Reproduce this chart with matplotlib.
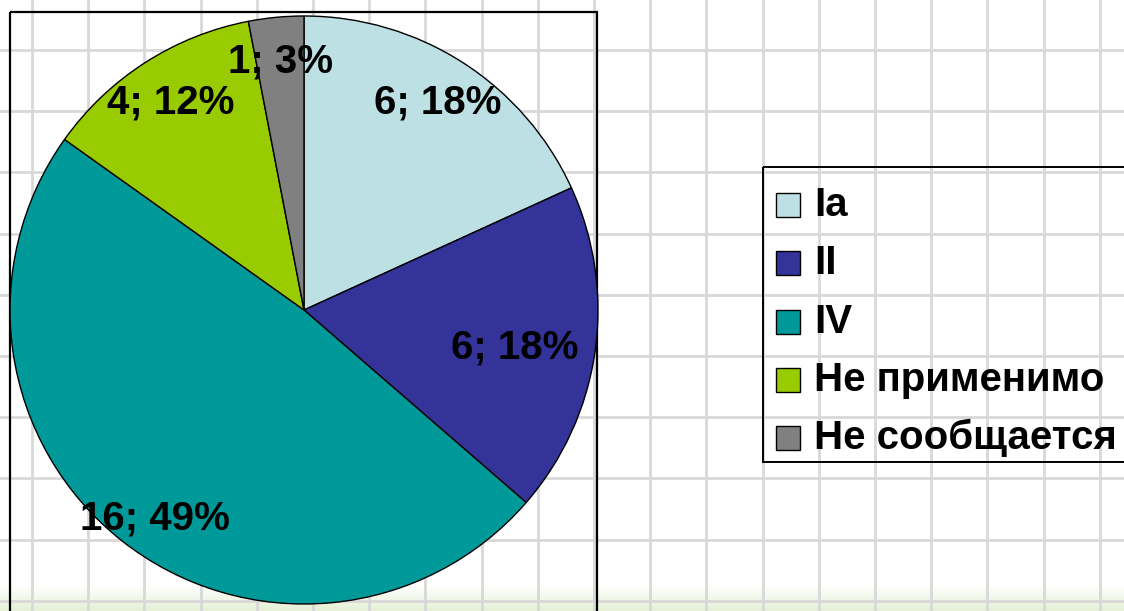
import numpy as np
import matplotlib.pyplot as plt
from matplotlib.patches import Rectangle

categories = ['Ia', 'II', 'IV', 'Не применимо', 'Не сообщается']
counts = [6, 6, 16, 4, 1]
percents = [18, 18, 49, 12, 3]
colors = ['#BCE0E3', '#333399', '#009999', '#99CC00', '#808080']
label_dist = [0.84, 0.73, 0.87, 0.84, 0.85]
label_turn = [0, -2.0, 2.6, 0, 0]

W, H = 1124, 611
fig = plt.figure(figsize=(W / 100, H / 100), dpi=100)
fig.patch.set_facecolor('white')

# background: squared paper with a faint green tint at the bottom
bg = fig.add_axes([0, 0, 1, 1])
bg.set_xlim(0, W)
bg.set_ylim(H, 0)
bg.axis('off')
tint = np.ones((H, 1, 4))
tint[:, 0, :3] = [0.88, 0.93, 0.80]
tint[:, 0, 3] = np.clip((np.arange(H) - 585) / 30, 0, 0.8)
bg.imshow(tint, extent=[0, W, H, 0], aspect='auto', zorder=0)
for x in np.arange(32, W, 56.2):
    bg.axvline(x, color='#d8d8d8', lw=2.0, zorder=1)
for y in np.arange(50, H, 61.2):
    bg.axhline(y, color='#d8d8d8', lw=2.0, zorder=1)

# plot area frame
bg.add_patch(Rectangle((10, 12), 587, 620, fill=False, ec='black', lw=1.6, zorder=2))

# pie
cx, cy, r = 304, 310, 294
ax = fig.add_axes([(cx - r) / W, (H - cy - r) / H, 2 * r / W, 2 * r / H])
wedges, _ = ax.pie(counts, colors=colors, startangle=90, counterclock=False, radius=1,
                   wedgeprops=dict(edgecolor='black', linewidth=1.0))
ax.set_xlim(-1, 1)
ax.set_ylim(-1, 1)
ax.axis('off')

for w, n, p, d, t in zip(wedges, counts, percents, label_dist, label_turn):
    ang = np.deg2rad((w.theta1 + w.theta2) / 2 + t)
    ax.text(d * np.cos(ang), d * np.sin(ang), f'{n}; {p}%', ha='center', va='center',
            fontsize=29, fontweight='bold', family=['Liberation Sans', 'DejaVu Sans'])

# legend box (drawn by hand so the rows land where the original has them)
bg.add_patch(Rectangle((763, 167), 420, 295, fill=False, ec='black', lw=1.4, zorder=3))
row0, step = 205, 58.3
for i, (lab, c) in enumerate(zip(categories, colors)):
    yy = row0 + i * step
    bg.add_patch(Rectangle((776, yy - 12), 24, 24, fc=c, ec='black', lw=1.0, zorder=3))
    bg.text(814, yy, lab, ha='left', va='center', fontsize=29, fontweight='bold',
            family=['Liberation Sans', 'DejaVu Sans'], zorder=3)

fig.savefig('out.png', dpi=100)
